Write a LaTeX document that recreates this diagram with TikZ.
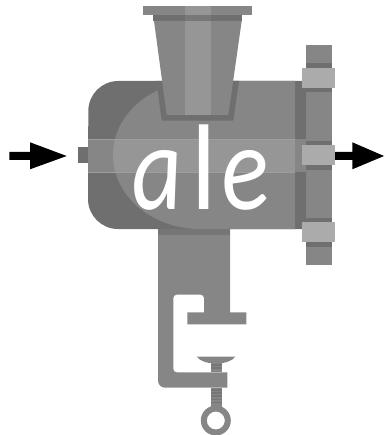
\documentclass[tikz,border=0pt]{standalone}
\usepackage{fontspec}
\newfontface\aleit[FakeStretch=0.82,FakeSlant=-0.06]{Carlito Italic}
\newfontface\aleup[FakeStretch=0.9]{Carlito}
\definecolor{gdark}{HTML}{6F6F6F}
\definecolor{gmid}{HTML}{868686}
\definecolor{glight}{HTML}{969696}
\definecolor{gbox}{HTML}{ABABAB}
\definecolor{gedge}{HTML}{9E9E9E}
\tikzset{
  darkpart/.style={fill=gdark},
  midpart/.style={fill=gmid},
  lightpart/.style={fill=glight},
  boxpart/.style={fill=gbox},
  arrowpart/.style={fill=black},
  edge/.style={draw=gedge,line width=0.35pt},
}
\begin{document}
\begin{tikzpicture}[x=1pt,y=-1pt]
\useasboundingbox (0,0) rectangle (384,435);
% arrows
\fill[arrowpart] (9.3,152) -- (30,152) -- (30,142.3) -- (66.7,156) -- (30,169.3) -- (30,160) -- (9.3,160) -- cycle;
\fill[arrowpart] (335,152) -- (352.3,152) -- (352.3,142.3) -- (384,156) -- (352.3,169.3) -- (352.3,160) -- (335,160) -- cycle;
% knob
\fill[darkpart] (78,146.7) rectangle (89,162.7);
% clamp
\fill[midpart] (158,229) -- (230,229) -- (230,312.3) -- (246.3,312.3) -- (246.3,324.3) -- (187.3,324.3) -- (187.3,312.3) -- (204,312.3) -- (204,298) arc[start angle=0,end angle=-90,radius=3.3] -- (176.6,294.7) arc[start angle=-90,end angle=-180,radius=3.3] -- (173.3,369) arc[start angle=180,end angle=90,radius=3.3] -- (227.3,372.3) -- (227.3,387.7) -- (165,387.7) arc[start angle=90,end angle=180,radius=7] -- cycle;
\fill[gdark!70!gmid] (158,229) rectangle (230,235);
% screw
\fill[midpart] (211.2,363) rectangle (222,372.3);
\fill[midpart] (211.2,387.7) rectangle (222,408);
\foreach \yy in {364,367.4,389,392.2,395.4,398.6,401.8}
  \fill[gdark!70!gmid] (211.2,\yy) rectangle (222,\yy+1.6);
\fill[midpart] (196.7,356.7) -- (235.3,356.7) .. controls (232,361) and (225,363.5) .. (216,363.5) .. controls (207,363.5) and (200,361) .. (196.7,356.7) -- cycle;
\fill[midpart,even odd rule] (215.8,420.5) circle[radius=15] (215.8,420.5) circle[radius=9];
% flange back
\fill[midpart] (306,45) rectangle (332,265);
\foreach \ya/\yb in {62.7/68,88/92,141/145,165/170,218/222,242/247}
  \fill[darkpart] (306,\ya) rectangle (332,\yb);
% body
\fill[darkpart] (118,81) -- (306,81) -- (306,229) -- (118,229) arc[start angle=90,end angle=180,radius=30] -- (88.3,111) arc[start angle=180,end angle=270,radius=30] -- cycle;
\fill[midpart] (88.3,139) rectangle (306,171.7);
% inner casing
\fill[midpart] (200,81) -- (295,81) -- (295,229) -- (200,229) arc[start angle=90,end angle=270,x radius=87,y radius=74] -- cycle;
\begin{scope}
\clip (200,81) -- (295,81) -- (295,229) -- (200,229) arc[start angle=90,end angle=270,x radius=87,y radius=74] -- cycle;
\fill[lightpart] (100,139) rectangle (295,171.7);
\end{scope}
\draw[edge] (295,139) -- (88.3,139) (295,171.7) -- (88.3,171.7);
% hopper
\fill[darkpart] (156.4,81) -- (239,81) -- (233.3,120.7) -- (161.7,120.7) -- cycle;
\fill[midpart] (143.3,6.3) rectangle (252.3,15.3);
\fill[darkpart] (153.3,15.3) rectangle (242.3,21);
\fill[midpart] (154,21) -- (241.7,21) -- (228.3,115) -- (166.7,115) -- cycle;
\fill[lightpart] (185,6.3) rectangle (210.7,15.3);
\fill[gdark!60!gmid] (185,15.3) rectangle (210.7,21);
\fill[lightpart] (185,21) rectangle (210.7,115);
% collars
\fill[boxpart] (302,68) rectangle (335,88);
\fill[boxpart] (302,145) rectangle (335,165);
\fill[boxpart] (302,222) rectangle (335,242);
% text
\node[text=white,font=\fontsize{122}{122}\selectfont,inner sep=0pt,anchor=base west] (word) at (133,210) {\aleit a\kern6.5pt{\aleup l}\kern7pt\aleit e};
\end{tikzpicture}
\end{document}
